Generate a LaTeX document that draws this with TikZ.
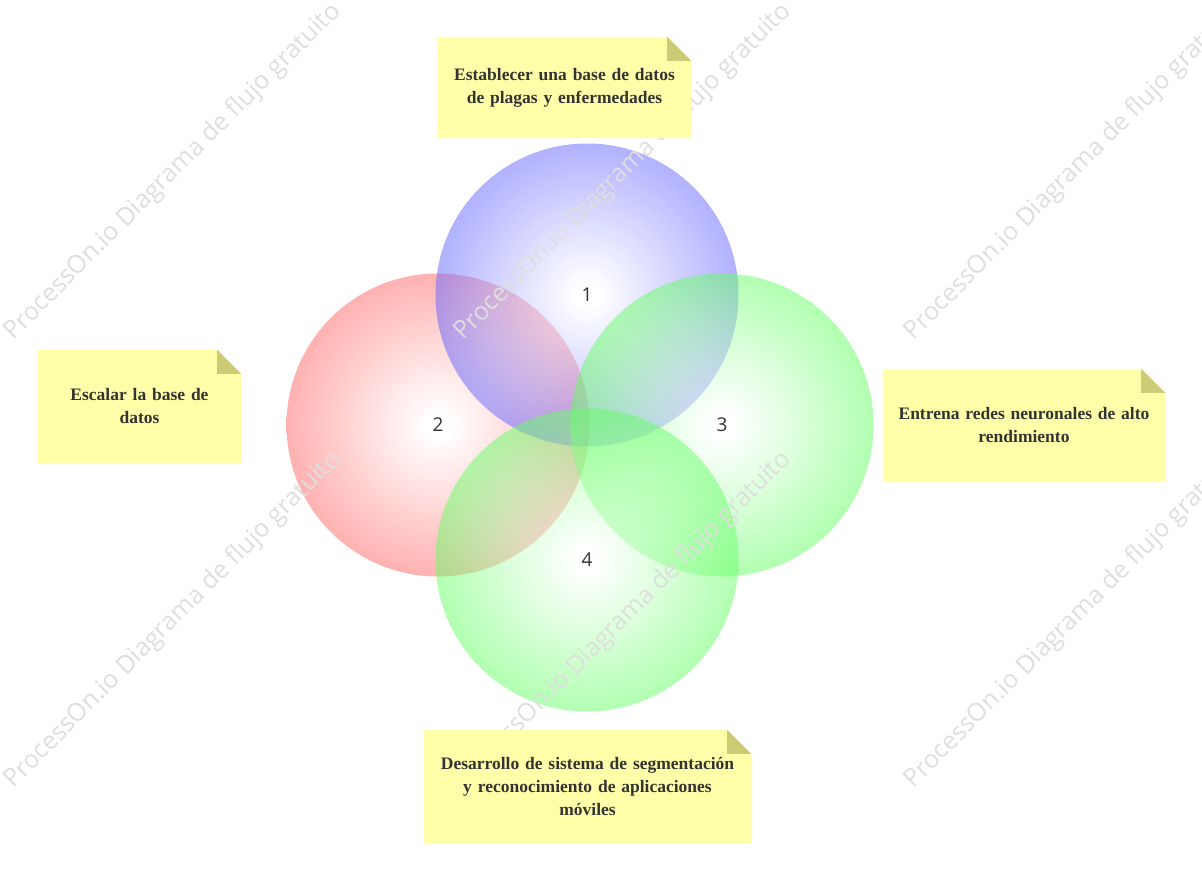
\documentclass[tikz,border=0pt]{standalone}
\usepackage{fontspec}
\setmainfont{Liberation Serif}
\newfontfamily\labfont{Open Sans}
\definecolor{cblue}{RGB}{100,100,255}
\definecolor{cred}{RGB}{255,100,100}
\definecolor{cgreen}{RGB}{100,255,100}
\definecolor{notebg}{RGB}{255,255,170}
\definecolor{notefold}{RGB}{204,204,119}
\definecolor{txt}{RGB}{51,51,51}
\definecolor{wmark}{RGB}{222,222,222}
\pgfdeclareradialshading{blueglow}{\pgfpoint{0bp}{0bp}}{color(0bp)=(white); color(2bp)=(white); color(25bp)=(cblue); color(50bp)=(cblue)}
\pgfdeclareradialshading{redglow}{\pgfpoint{0bp}{0bp}}{color(0bp)=(white); color(2bp)=(white); color(25bp)=(cred); color(50bp)=(cred)}
\pgfdeclareradialshading{greenglow}{\pgfpoint{0bp}{0bp}}{color(0bp)=(white); color(2bp)=(white); color(25bp)=(cgreen); color(50bp)=(cgreen)}
\tikzset{
  venn/.style={circle, minimum size=303bp, inner sep=0pt, draw=none, fill opacity=0.5},
  num/.style={text=txt, font=\labfont\fontsize{19bp}{22bp}\selectfont, inner sep=0pt},
  notebox/.style={minimum width=#1, text width=#1, align=center, minimum height=113bp, inner sep=0pt,
    text=txt, font=\bfseries\fontsize{17.5bp}{23bp}\selectfont},
  wm/.style={rotate=45, text=wmark, font=\labfont\fontsize{25bp}{25bp}\selectfont, inner sep=0pt},
}
\newcommand{\stickybg}[1]{%
  \fill[notebg] (#1.south west) -- (#1.north west) -- ([xshift=-24bp]#1.north east) -- ([yshift=-24bp]#1.north east) -- (#1.south east) -- cycle;
  \fill[notefold] ([xshift=-24bp]#1.north east) -- ([xshift=-24bp,yshift=-24bp]#1.north east) -- ([yshift=-24bp]#1.north east) -- cycle;}
\begin{document}
\begin{tikzpicture}[x=1bp, y=-1bp]
\useasboundingbox (0,0) rectangle (1202,881);
% circles
\node[venn, shading=redglow] (c2) at (438,425) {};
\node[venn, shading=blueglow] (c1) at (587,295) {};
\node[venn, shading=greenglow] (c3) at (722,425) {};
\node[venn, shading=greenglow] (c4) at (587,560) {};
\node[num] (l1) at (c1.center) {1};
\node[num] (l2) at (c2.center) {2};
\node[num] (l3) at (c3.center) {3};
\node[num] (l4) at (c4.center) {4};
% watermarks
\foreach \i/\cx in {0/173,1/623,2/1073}{
  \foreach \j/\cy in {0/172,1/620}{
    \node[wm] (w\i\j) at (\cx,\cy) {ProcessOn.io Diagrama de flujo gratuito};
  }
}
% notes (positions only, then background, then text)
\path (564.5,87.5) node[notebox=253bp, minimum height=101bp] (n1) {\phantom{x}};
\path (139.5,406.5) node[notebox=203bp] (n2) {\phantom{x}};
\path (1024,425.5) node[notebox=282bp] (n3) {\phantom{x}};
\path (587.5,786.5) node[notebox=327bp] (n4) {\phantom{x}};
\stickybg{n1}\stickybg{n2}\stickybg{n3}\stickybg{n4}
\node[notebox=253bp, minimum height=101bp] (t1) at (n1.center) {Establecer una base de datos\\de plagas y enfermedades};
\node[notebox=203bp] (t2) at (n2.center) {Escalar la base de\\datos};
\node[notebox=282bp] (t3) at (n3.center) {Entrena redes neuronales de alto\\rendimiento};
\node[notebox=327bp] (t4) at (n4.center) {Desarrollo de sistema de segmentaci\'on\\y reconocimiento de aplicaciones\\m\'oviles};
\end{tikzpicture}
\end{document}
